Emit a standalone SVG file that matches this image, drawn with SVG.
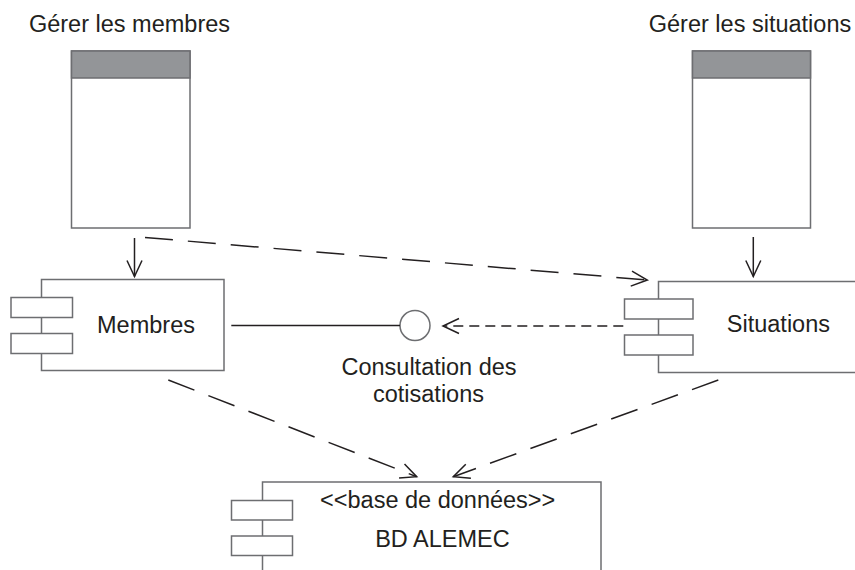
<svg xmlns="http://www.w3.org/2000/svg" width="855" height="570" viewBox="0 0 855 570">
<defs>
<marker id="open" markerUnits="userSpaceOnUse" markerWidth="20" markerHeight="20" viewBox="-18 -10 20 20" refX="0" refY="0" orient="auto">
<path d="M-16,-7.5 L0,0 L-16,7.5" fill="none" stroke="#231f20" stroke-width="1.5"/>
</marker>
</defs>
<style>
.box{fill:#fff;stroke:#6d6e71;stroke-width:1.5}
.hdr{fill:#939598;stroke:#6d6e71;stroke-width:1.5}
.t{font-family:"Liberation Sans",Arial,sans-serif;font-size:23.5px;fill:#231f20;text-anchor:middle}
.ln{fill:none;stroke:#231f20;stroke-width:1.5}
.ld{stroke-dasharray:28 15}
.sd{stroke-dasharray:10 6}
</style>
<rect width="855" height="570" fill="#fff"/>
<g id="gerer-membres">
<rect class="box" x="71.5" y="51" width="118.5" height="177"/>
<rect class="hdr" x="71.5" y="51" width="118.5" height="27"/>
<text class="t" x="129.5" y="31.7">Gérer les membres</text>
</g>
<g id="gerer-situations">
<rect class="box" x="692.5" y="51" width="118" height="177"/>
<rect class="hdr" x="692.5" y="51" width="118" height="27"/>
<text class="t" x="750" y="32">Gérer les situations</text>
</g>
<g id="membres">
<rect class="box" x="41.5" y="279.5" width="182.5" height="91"/>
<rect class="box" x="11" y="297.5" width="61.5" height="20"/>
<rect class="box" x="11" y="333.5" width="61.5" height="20"/>
<text class="t" x="146" y="333">Membres</text>
</g>
<g id="situations">
<rect class="box" x="658.5" y="281.5" width="250" height="91"/>
<rect class="box" x="624.5" y="299" width="68.5" height="20"/>
<rect class="box" x="624.5" y="335" width="68.5" height="20"/>
<text class="t" x="778.4" y="332">Situations</text>
</g>
<g id="consultation">
<circle cx="415" cy="325.5" r="15" fill="#fff" stroke="#6d6e71" stroke-width="1.5"/>
<text class="t" x="429" y="375">Consultation des</text>
<text class="t" x="428.5" y="401.5">cotisations</text>
</g>
<g id="bd-alemec">
<rect class="box" x="262.5" y="482" width="338.5" height="120"/>
<rect class="box" x="231.5" y="500.5" width="61" height="19.5"/>
<rect class="box" x="231.5" y="536" width="61" height="19.5"/>
<text class="t" x="437.7" y="507.7">&lt;&lt;base de données&gt;&gt;</text>
<text class="t" x="442.4" y="546.7">BD ALEMEC</text>
</g>
<g id="connectors">
<line class="ln" x1="134.5" y1="238" x2="134.5" y2="276.5" marker-end="url(#open)"/>
<line class="ln" x1="753.3" y1="237" x2="753.3" y2="276.5" marker-end="url(#open)"/>
<line class="ln ld" x1="145" y1="237.5" x2="647.3" y2="280" marker-end="url(#open)"/>
<line class="ln" x1="231.3" y1="325.5" x2="400" y2="325.5"/>
<line class="ln sd" x1="623.3" y1="326" x2="443" y2="326" marker-end="url(#open)"/>
<line class="ln ld" x1="168.3" y1="380" x2="416.7" y2="476.7" marker-end="url(#open)"/>
<line class="ln ld" x1="718.3" y1="380" x2="453.3" y2="476.7" marker-end="url(#open)"/>
</g>
</svg>
